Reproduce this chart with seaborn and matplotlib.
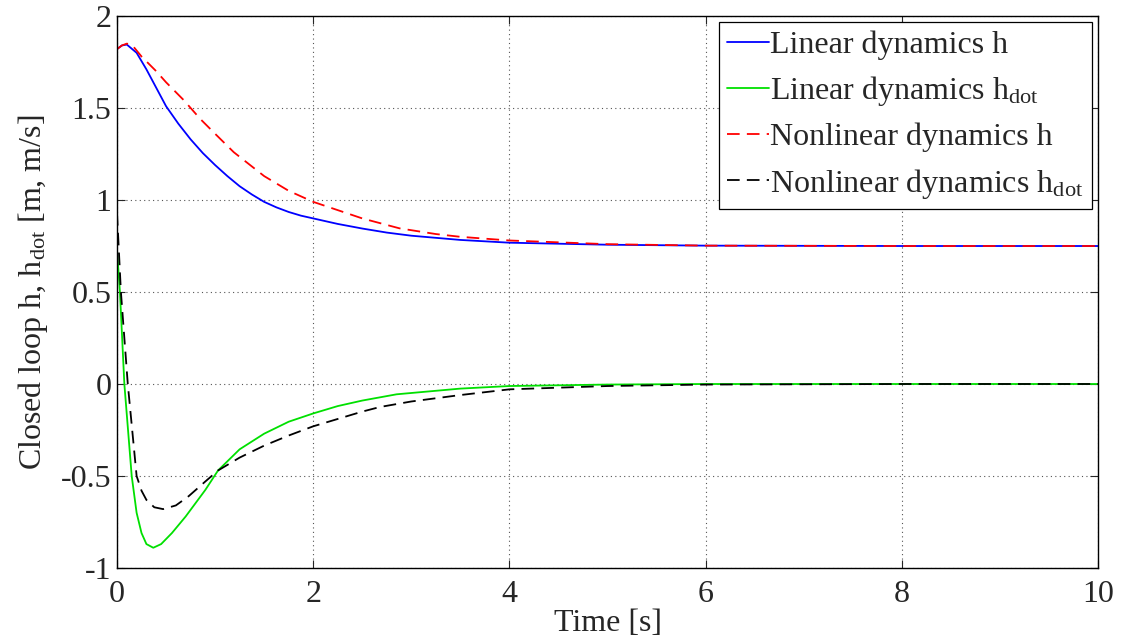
import matplotlib
matplotlib.use("Agg")
import matplotlib.pyplot as plt
import seaborn as sns

# values
t_lin_h = [0, 0.05, 0.1, 0.2, 0.3, 0.4, 0.5, 0.625, 0.75, 0.875, 1.0, 1.125, 1.25, 1.375, 1.5, 1.625, 1.75, 1.875,
           2.0, 2.25, 2.5, 2.75, 3.0, 3.5, 4.0, 5.0, 6.0, 8.0, 10.0]
lin_h = [1.82, 1.84, 1.845, 1.80, 1.71, 1.61, 1.51, 1.415, 1.33, 1.255, 1.19, 1.13, 1.075, 1.03, 0.99, 0.96, 0.935, 0.915,
         0.90, 0.87, 0.845, 0.823, 0.806, 0.783, 0.768, 0.757, 0.752, 0.75, 0.75]

t_lin_hdot = [0, 0.03, 0.075, 0.15, 0.2, 0.25, 0.3, 0.37, 0.45, 0.56, 0.7, 0.9, 1.03, 1.25, 1.5, 1.75, 2.0, 2.25, 2.5,
              2.85, 3.5, 4.0, 5.0, 6.0, 8.0, 10.0]
lin_hdot = [0.73, 0.5, 0.0, -0.5, -0.70, -0.81, -0.87, -0.89, -0.87, -0.81, -0.72, -0.576, -0.47, -0.355, -0.27,
            -0.205, -0.16, -0.12, -0.09, -0.056, -0.025, -0.011, -0.003, 0.0, 0.0, 0.0]

t_nl_h = [0, 0.05, 0.1, 0.15, 0.25, 0.4, 0.5, 0.68, 0.85, 1.0, 1.19, 1.5, 1.75, 2.0, 2.5, 2.88, 3.25, 3.5, 4.0, 5.0,
          6.0, 8.0, 10.0]
nl_h = [1.82, 1.84, 1.85, 1.845, 1.78, 1.70, 1.64, 1.543, 1.44, 1.36, 1.26, 1.13, 1.05, 0.99, 0.90, 0.846, 0.815, 0.80,
        0.78, 0.76, 0.752, 0.75, 0.75]

t_nl_hdot = [0, 0.04, 0.11, 0.2, 0.25, 0.3, 0.38, 0.47, 0.6, 0.73, 0.9, 1.03, 1.25, 1.5, 1.75, 2.0, 2.25, 2.5, 2.68,
             3.0, 3.5, 4.0, 5.0, 6.0, 8.0, 10.0]
nl_hdot = [0.93, 0.5, 0.0, -0.5, -0.58, -0.63, -0.67, -0.68, -0.66, -0.61, -0.53, -0.47, -0.40, -0.335, -0.28, -0.23,
           -0.19, -0.15, -0.125, -0.095, -0.06, -0.029, -0.011, -0.003, 0.0, 0.0]

x_ticks = [0, 2, 4, 6, 8, 10]
y_ticks = [-1, -0.5, 0, 0.5, 1, 1.5, 2]
y_tick_labels = ["-1", "-0.5", "0", "0.5", "1", "1.5", "2"]

sns.set_style("ticks")
plt.rcParams["font.family"] = ["Liberation Serif", "DejaVu Serif"]
plt.rcParams["mathtext.fontset"] = "custom"
plt.rcParams["mathtext.rm"] = "Liberation Serif"
plt.rcParams["mathtext.it"] = "Liberation Serif:italic"
plt.rcParams["axes.unicode_minus"] = False

fig = plt.figure(figsize=(11.26, 6.41), dpi=100)
ax = fig.add_axes([0.1039, 0.1139, 0.8713, 0.8611])

dash = (0, (7, 4))
sns.lineplot(x=t_lin_h, y=lin_h, ax=ax, color="#0000ff", lw=1.3, label="Linear dynamics h")
sns.lineplot(x=t_lin_hdot, y=lin_hdot, ax=ax, color="#00e000", lw=1.3, label="Linear dynamics h$_{\\mathrm{dot}}$")
sns.lineplot(x=t_nl_h, y=nl_h, ax=ax, color="#ff0000", lw=1.3, linestyle=dash, label="Nonlinear dynamics h")
sns.lineplot(x=t_nl_hdot, y=nl_hdot, ax=ax, color="black", lw=1.3, linestyle=dash,
             label="Nonlinear dynamics h$_{\\mathrm{dot}}$")

ax.set_xlim(0, 10)
ax.set_ylim(-1, 2)
ax.set_xticks(x_ticks)
ax.set_yticks(y_ticks)
ax.set_yticklabels(y_tick_labels)
ax.tick_params(direction="in", length=6, width=0.8, labelsize=23, top=True, right=True)
ax.tick_params(axis="x", pad=9)
ax.tick_params(axis="y", pad=4)
ax.grid(True, linestyle=(0, (1, 3)), color="#555555", linewidth=0.8)
for s in ax.spines.values():
    s.set_linewidth(1.0)
    s.set_color("black")

ax.set_xlabel("Time [s]", fontsize=23, labelpad=0)
ax.set_ylabel("Closed loop h, h$_{\\mathrm{dot}}$ [m, m/s]", fontsize=23, labelpad=8)

leg = ax.legend(loc="upper right", fontsize=23, frameon=True, fancybox=False, framealpha=1,
                edgecolor="black", handlelength=1.3, handletextpad=0.05, borderpad=0.25,
                labelspacing=0.45, borderaxespad=0.2)
leg.get_frame().set_linewidth(0.9)

fig.savefig("out.png", dpi=100)
